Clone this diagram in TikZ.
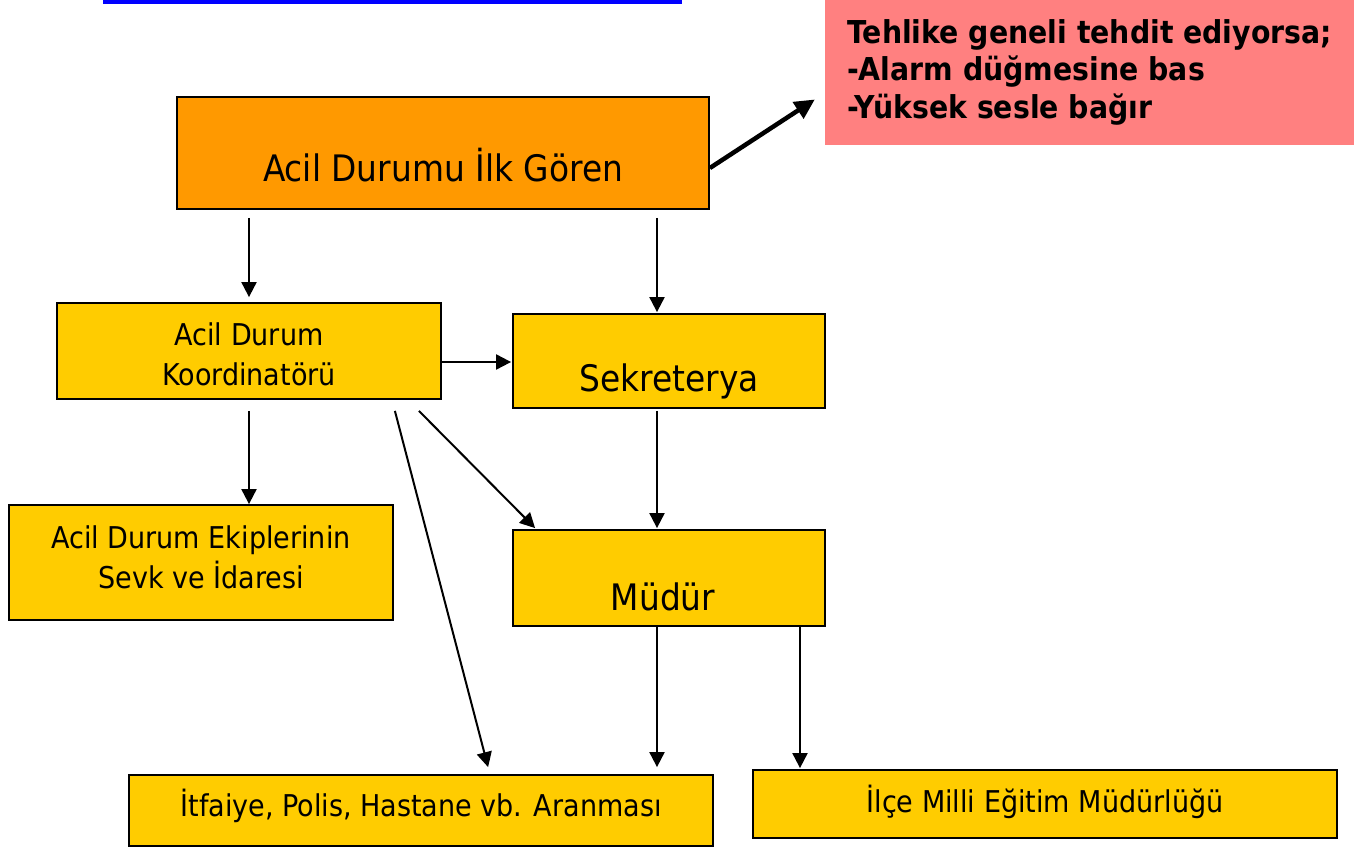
\documentclass[tikz,border=0pt]{standalone}
\usepackage{fontspec}
\setmainfont{DejaVu Sans}[FakeStretch=0.9]
\usepackage{tikz}
\usetikzlibrary{arrows.meta}
\usetikzlibrary{positioning}

\definecolor{turuncu}{HTML}{FF9900}
\definecolor{sari}{HTML}{FFCC00}
\definecolor{pembe}{HTML}{FF8080}

\begin{document}
\begin{tikzpicture}[x=1pt, y=-1pt,
    kutu/.style={rectangle, draw, line width=1.8pt, fill=sari, inner sep=0pt},
    yazi/.style={font=\fontsize{30}{40}\selectfont, align=center},
    buyuk/.style={font=\fontsize{36.5}{40}\selectfont},
    ok/.style={-{Triangle[length=15pt,width=15pt]}, line width=2pt}
]

\useasboundingbox (0,0) rectangle (1354,848);

% Başlık çizgisi
\fill[blue] (103,0) rectangle (682,4);

% Kutular
\node[kutu, fill=turuncu, minimum width=532pt, minimum height=112pt] (goren) at (443,153) {};
\node[buyuk] (gorenyazi) at (443,165) {Acil Durumu İlk Gören};

\node[rectangle, fill=pembe, minimum width=529pt, minimum height=145pt] (tehlike) at (1089.5,72.5) {};
\node[font=\fontsize{31.5}{37.5}\selectfont\bfseries, align=left, anchor=west, inner sep=0pt] (tehlikeyazi) at (847,72)
    {Tehlike geneli tehdit ediyorsa;\\-Alarm düğmesine bas\\-Yüksek sesle bağır};

\node[kutu, minimum width=384pt, minimum height=96pt] (koord) at (249,351) {};
\node[yazi] (koordyazi) at (249,354) {Acil Durum\\Koordinatörü};

\node[kutu, minimum width=312pt, minimum height=94pt] (sek) at (669,361) {};
\node[buyuk] (sekyazi) at (669,381) {Sekreterya};

\node[kutu, minimum width=384pt, minimum height=115pt] (ekip) at (201,562.5) {};
\node[yazi] (ekipyazi) at (201,557) {Acil Durum Ekiplerinin\\Sevk ve İdaresi};

\node[kutu, minimum width=312pt, minimum height=96pt] (mudur) at (669,578) {};
\node[buyuk] (mudurnyazi) at (663,597) {Müdür};

\node[kutu, minimum width=584pt, minimum height=71pt] (itfaiye) at (421,810.5) {};
\node[yazi] (itfaiyeyazi) at (421,806) {İtfaiye, Polis, Hastane vb. Aranması};

\node[kutu, minimum width=584pt, minimum height=68pt] (ilce) at (1045,804) {};
\node[yazi] (ilceyazi) at (1045,802) {İlçe Milli Eğitim Müdürlüğü};

% Oklar
\draw[-{Triangle[length=20pt,width=19pt]}, line width=4.5pt]
    ([yshift=-15pt]goren.east) -- ([xshift=-10pt,yshift=-27pt]tehlike.west);
\draw[ok, shorten <=8pt, shorten >=5pt] (goren.south -| koord.north) -- (koord.north);
\draw[ok, shorten <=8pt, shorten >=1pt] (goren.south -| sek.north) ++(-12,0) -- ([xshift=-12pt]sek.north);
\draw[ok, shorten >=1pt] ([yshift=-11pt]koord.east) -- ([yshift=-11pt]koord.east -| sek.west);
\draw[ok, shorten <=11pt] (koord.south) -- (koord.south |- ekip.north);
\draw[ok, shorten <=2pt, shorten >=1pt] ([xshift=-12pt]sek.south) -- ([xshift=-12pt]mudur.north);
\draw[ok] ([xshift=-23pt,yshift=-11pt]koord.south east) -- ([xshift=23pt,yshift=1pt]mudur.north west);
\draw[ok] ([xshift=-47pt,yshift=-11pt]koord.south east) -- ([xshift=360pt,yshift=7pt]itfaiye.north west);
\draw[ok, shorten >=7pt] ([xshift=-12pt]mudur.south) -- ([xshift=-12pt]mudur.south |- itfaiye.north);
\draw[ok, shorten >=1pt] ([xshift=131pt]mudur.south) -- ([xshift=131pt]mudur.south |- ilce.north);

\end{tikzpicture}
\end{document}
